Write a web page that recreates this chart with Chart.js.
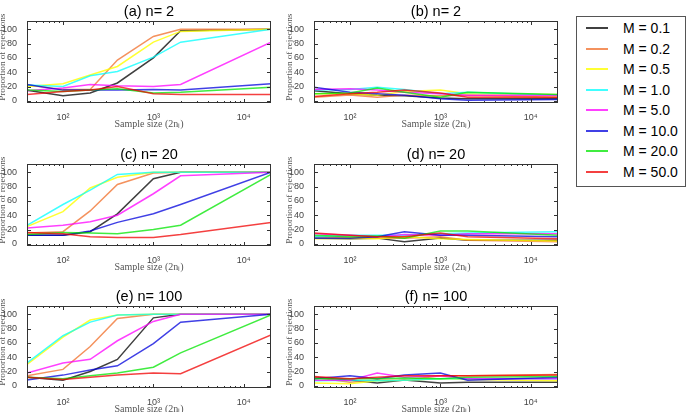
<!DOCTYPE html>
<html><head><meta charset="utf-8">
<script src="https://cdn.jsdelivr.net/npm/chart.js@4"></script>
<style>
html,body{margin:0;padding:0;background:#fff;width:688px;height:412px;overflow:hidden;position:relative}
canvas{position:absolute}
#legend{position:absolute;left:576px;top:16px;width:110px;height:171px;border:1px solid #555;box-sizing:border-box;background:#fff;font-family:'Liberation Sans',Arial,sans-serif;font-size:14px}
.sw{position:absolute;left:9px;width:22px;height:2px}
.lb{position:absolute;left:46px;line-height:16px;height:16px;white-space:nowrap;color:#000}
</style>
</head><body>
<div id="legend"></div>
<script>
// ---------- data ----------
const sampleSizes = [40, 100, 200, 400, 1000, 2000, 20000];
const seriesLabels = ['M = 0.1','M = 0.2','M = 0.5','M = 1.0','M = 5.0','M = 10.0','M = 20.0','M = 50.0'];
const panelTitles = ['(a) n= 2','(b) n= 2','(c) n= 20','(d) n= 20','(e) n= 100','(f) n= 100'];
const xTickValues = [100, 1000, 10000];
const xTickLabels = ['10\u00B2','10\u00B3','10\u2074'];
const yTickValues = [0, 20, 40, 60, 80, 100];
const xAxisTitle = 'Sample size (2n\u2097)';
const yAxisTitle = 'Proportion of rejections';

// rows: M = 0.1, 0.2, 0.5, 1.0, 5.0, 10.0, 20.0, 50.0
const panelA = [
  [15, 7, 11, 25, 60, 98, 100],
  [22, 16, 16, 57, 90, 100, 100],
  [20, 24, 36, 48, 82, 97, 100],
  [22, 20, 35, 41, 61, 82, 100],
  [14, 18, 23, 21, 20, 23, 82],
  [23, 15, 15, 15, 16, 15, 24],
  [15, 13, 15, 17, 11, 12, 19],
  [9, 13, 15, 20, 10, 9, 9]
];
const panelB = [
  [14, 10, 8, 7, 4, 3, 3],
  [5, 8, 5, 8, 7, 8, 5],
  [10, 10, 8, 13, 15, 10, 9],
  [15, 16, 19, 16, 10, 12, 8],
  [16, 17, 15, 12, 10, 8, 8],
  [19, 12, 10, 8, 3, 1, 2],
  [10, 11, 18, 12, 5, 12, 9],
  [6, 10, 12, 15, 11, 5, 5]
];
const panelC = [
  [12, 12, 17, 42, 91, 100, 100],
  [15, 17, 46, 83, 99, 100, 100],
  [24, 45, 78, 93, 100, 100, 100],
  [26, 55, 75, 97, 100, 100, 100],
  [22, 26, 31, 40, 70, 95, 100],
  [12, 12, 18, 30, 42, 55, 100],
  [13, 16, 15, 14, 20, 26, 97],
  [16, 14, 10, 9, 9, 13, 30]
];
const panelD = [
  [8, 7, 8, 3, 8, 5, 5],
  [10, 9, 8, 8, 10, 5, 3],
  [7, 8, 7, 10, 7, 6, 4],
  [10, 12, 12, 12, 14, 15, 17],
  [14, 12, 10, 13, 12, 14, 14],
  [8, 8, 10, 17, 12, 12, 10],
  [12, 10, 11, 8, 18, 18, 12],
  [15, 12, 10, 10, 15, 10, 7]
];
const panelE = [
  [12, 8, 20, 37, 95, 100, 100],
  [14, 23, 55, 94, 100, 100, 100],
  [30, 68, 92, 99, 100, 100, 100],
  [32, 70, 89, 99, 100, 100, 100],
  [18, 32, 37, 63, 90, 100, 100],
  [8, 15, 22, 28, 59, 89, 100],
  [12, 10, 14, 18, 26, 46, 99],
  [12, 9, 12, 15, 18, 17, 71]
];
const panelF = [
  [12, 8, 4, 8, 4, 5, 5],
  [12, 5, 8, 8, 14, 14, 16],
  [4, 3, 7, 8, 10, 9, 7],
  [7, 8, 7, 8, 10, 10, 10],
  [8, 8, 18, 12, 14, 10, 10],
  [10, 14, 10, 15, 18, 8, 12],
  [10, 10, 10, 11, 10, 12, 13],
  [13, 10, 12, 14, 14, 14, 15]
];
const panels = [panelA, panelB, panelC, panelD, panelE, panelF];

// ---------- style ----------
const colors = ['rgba(0,0,0,0.75)','rgba(240,110,40,0.75)','rgba(255,255,0,0.8)','rgba(0,255,255,0.75)',
                'rgba(255,0,255,0.75)','rgba(0,0,220,0.75)','rgba(0,230,0,0.75)','rgba(240,0,0,0.75)'];
const colLeft = [27, 314], boxW = 244;
const rowTop = [22, 165, 307], boxH = 81;
const yPad = 34, rightPad = 8, titleH = 21, xAxisH = 32;

const framePlugin = {
  id: 'frame',
  afterDraw(chart) {
    const {ctx, chartArea: a, scales: {x, y}} = chart;
    ctx.save();
    ctx.strokeStyle = '#333';
    ctx.lineWidth = 1;
    ctx.strokeRect(Math.round(a.left) + 0.5, Math.round(a.top) + 0.5,
                   Math.round(a.right - a.left) - 1, Math.round(a.bottom - a.top) - 1);
    ctx.beginPath();
    const b = Math.round(a.bottom), t = Math.round(a.top);
    for (let k = 1; k <= 4; k++) {
      for (let m = 1; m <= 9; m++) {
        const v = m * Math.pow(10, k);
        if (v <= x.min || v >= x.max) continue;
        const px = Math.round(x.getPixelForValue(v)) + 0.5;
        const len = m === 1 ? 4 : 2;
        ctx.moveTo(px, b); ctx.lineTo(px, b - len);
        ctx.moveTo(px, t); ctx.lineTo(px, t + len);
      }
    }
    const l = Math.round(a.left), r = Math.round(a.right);
    yTickValues.forEach(v => {
      const py = Math.round(y.getPixelForValue(v)) + 0.5;
      ctx.moveTo(l, py); ctx.lineTo(l + 4, py);
      ctx.moveTo(r, py); ctx.lineTo(r - 4, py);
    });
    ctx.stroke();
    // y axis title (drawn unsquashed, like matplotlib)
    ctx.translate(a.left - 24, (a.top + a.bottom) / 2 - 5);
    ctx.rotate(-Math.PI / 2);
    ctx.textAlign = 'center';
    ctx.textBaseline = 'middle';
    ctx.fillStyle = '#555';
    ctx.font = "9.2px 'Liberation Serif', 'Times New Roman', serif";
    ctx.fillText(yAxisTitle, 0, 0);
    ctx.restore();
  }
};

panels.forEach((data, p) => {
  const col = p % 2, row = Math.floor(p / 2);
  const cv = document.createElement('canvas');
  const W = yPad + boxW + rightPad, H = titleH + boxH + xAxisH;
  cv.width = W; cv.height = H;
  cv.style.width = W + 'px'; cv.style.height = H + 'px';
  cv.style.left = (colLeft[col] - yPad) + 'px';
  cv.style.top = (rowTop[row] - titleH) + 'px';
  document.body.appendChild(cv);
  new Chart(cv, {
    type: 'line',
    data: {
      labels: sampleSizes,
      datasets: data.map((vals, i) => ({
        label: seriesLabels[i],
        data: vals.map((v, j) => ({x: sampleSizes[j], y: v})),
        borderColor: colors[i],
        backgroundColor: colors[i],
        borderWidth: 1.5,
        pointRadius: 0,
        tension: 0,
        fill: false,
        order: 7 - i
      }))
    },
    options: {
      responsive: false,
      animation: false,
      devicePixelRatio: 1,
      layout: {padding: {left: 0, right: rightPad, top: 0, bottom: 0}},
      plugins: {
        legend: {display: false},
        tooltip: {enabled: false},
        title: {
          display: true, text: panelTitles[p], fullSize: false,
          color: '#000', font: {family: "'Liberation Sans', Arial, sans-serif", size: 14.5, weight: 'normal'},
          padding: {top: 2, bottom: 1}
        }
      },
      scales: {
        x: {
          type: 'logarithmic', min: 40, max: 20000,
          grid: {display: false}, border: {display: false},
          afterBuildTicks(s) { s.ticks = xTickValues.map(v => ({value: v, major: true})); },
          afterFit(s) { s.height = xAxisH; },
          ticks: {
            autoSkip: false, maxRotation: 0, padding: 1, color: '#444',
            font: {family: "'Liberation Sans', Arial, sans-serif", size: 9},
            callback(v, i) { return xTickLabels[i]; }
          },
          title: {
            display: true, text: xAxisTitle, color: '#555',
            font: {family: "'Liberation Serif', 'Times New Roman', serif", size: 10},
            padding: {top: 0, bottom: 4.4}
          }
        },
        y: {
          type: 'linear', min: -3, max: 111,
          grid: {display: false}, border: {display: false},
          afterBuildTicks(s) { s.ticks = yTickValues.map(v => ({value: v})); },
          afterFit(s) { s.width = yPad; },
          ticks: {
            autoSkip: false, padding: 2, color: '#444',
            font: {family: "'Liberation Sans', Arial, sans-serif", size: 9}
          },
          title: {display: false, text: yAxisTitle}
        }
      }
    },
    plugins: [framePlugin]
  });
});

// legend
const lg = document.getElementById('legend');
seriesLabels.forEach((lab, i) => {
  const cy = Math.round(11.3 + 20.5 * i);
  const sw = document.createElement('div');
  sw.className = 'sw'; sw.style.top = (cy - 1) + 'px'; sw.style.background = colors[i];
  const tx = document.createElement('div');
  tx.className = 'lb'; tx.style.top = (cy - 8) + 'px'; tx.textContent = lab;
  lg.appendChild(sw); lg.appendChild(tx);
});
</script>
</body></html>
